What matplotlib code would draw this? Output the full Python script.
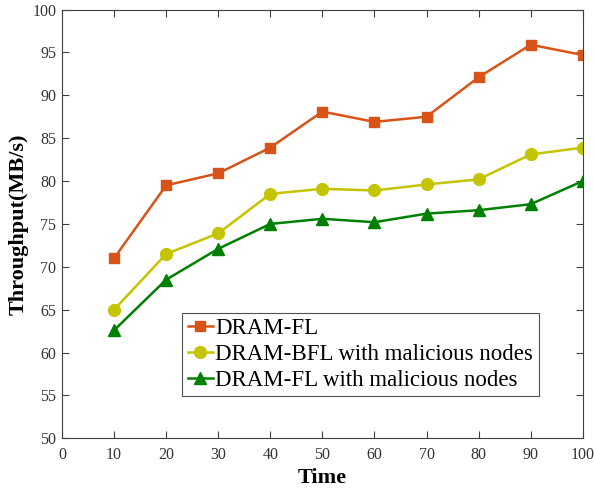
import matplotlib
matplotlib.use('Agg')
import matplotlib.pyplot as plt

time = [10, 20, 30, 40, 50, 60, 70, 80, 90, 100]
dram_fl = [71.0, 79.5, 80.9, 83.9, 88.1, 86.9, 87.5, 92.1, 95.9, 94.7]
dram_bfl_mal = [65.0, 71.5, 73.9, 78.5, 79.1, 78.9, 79.6, 80.2, 83.1, 83.9]
dram_fl_mal = [62.6, 68.5, 72.1, 75.0, 75.6, 75.2, 76.2, 76.6, 77.3, 80.0]
labels = ['DRAM-FL', 'DRAM-BFL with malicious nodes', 'DRAM-FL with malicious nodes']

plt.rcParams['font.family'] = ['Liberation Serif', 'DejaVu Serif']

fig = plt.figure(figsize=(5.94, 4.92), dpi=100)
ax = fig.add_axes([0.1044, 0.1091, 0.8766, 0.8715])

ax.plot(time, dram_fl, color='#D95319', marker='s', markersize=7, linewidth=1.8, label=labels[0])
ax.plot(time, dram_bfl_mal, color='#C4C400', marker='o', markersize=8.5, linewidth=1.8, label=labels[1])
ax.plot(time, dram_fl_mal, color='#008000', marker='^', markersize=8.5, linewidth=1.8, label=labels[2])

ax.set_xlim(0, 100)
ax.set_ylim(50, 100)
ax.set_xticks(range(0, 101, 10))
ax.set_yticks(range(50, 101, 5))
ax.tick_params(direction='in', top=True, right=True, labelsize=11.5, colors='#404040', labelcolor='#333333', length=5)
ax.tick_params(axis='x', pad=6)
ax.tick_params(axis='y', pad=4)
for s in ax.spines.values():
    s.set_color('#404040')
    s.set_linewidth(0.8)

ax.set_xlabel('Time', fontsize=16, fontweight='bold', labelpad=4)
ax.set_ylabel('Throughput(MB/s)', fontsize=16, fontweight='bold', labelpad=3)

leg = ax.legend(loc='lower left', bbox_to_anchor=(0.230, 0.098), fontsize=16.5, frameon=True, fancybox=False,
                edgecolor='#262626', handlelength=1.1, handletextpad=0.1, labelspacing=0.2, borderpad=0.25,
                borderaxespad=0)
leg.get_frame().set_linewidth(0.8)

fig.savefig('out.png', dpi=100)
